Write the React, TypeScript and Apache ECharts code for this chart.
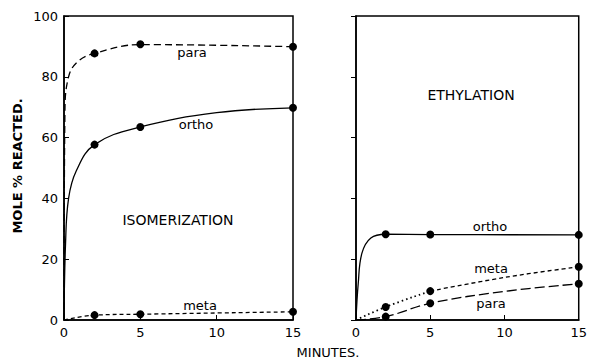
import React, { useEffect, useRef } from "react";
import * as echarts from "echarts";

// measured points
const times = [2, 5, 15];
const isoPara = [87.7, 90.7, 89.9];
const isoOrtho = [57.7, 63.5, 69.8];
const isoMeta = [1.6, 1.9, 2.7];
const ethOrtho = [28.2, 28.1, 28.0];
const ethMeta = [4.3, 9.5, 17.5];
const ethPara = [1.1, 5.5, 11.9];

// drawn curves
const isoParaCurveX = [0, 0.06, 0.3, 0.9, 2, 5, 15];
const isoParaCurveY = [0, 68, 80, 85, 87.7, 90.6, 89.9];
const isoOrthoCurveX = [0, 0.1, 0.3, 0.8, 2, 5, 10, 15];
const isoOrthoCurveY = [0, 25, 40, 49, 57.7, 63.5, 68.2, 69.8];
const isoMetaCurveX = [0, 2, 5, 15];
const isoMetaCurveY = [0, 1.6, 1.9, 2.7];
const ethOrthoCurveX = [0, 0.15, 0.4, 1.0, 2, 5, 15];
const ethOrthoCurveY = [0, 12, 22, 27, 28.2, 28.1, 28.0];
const ethMetaDotX = [0, 2, 5];
const ethMetaDotY = [0, 4.3, 9.5];
const ethMetaDashX = [5, 10, 15];
const ethMetaDashY = [9.5, 14.0, 17.5];
const ethParaCurveX = [0, 2, 5, 10, 15];
const ethParaCurveY = [0, 1.1, 5.5, 9.4, 11.9];

const xTicks = [0, 5, 10, 15];

const FONT = "DejaVu Sans";

const zip = (xs: number[], ys: number[]) => xs.map((x, i) => [x, ys[i]]);

export default function App() {
  const ref = useRef<HTMLDivElement>(null);
  useEffect(() => {
    document.body.style.margin = "0";
    const chart = echarts.init(ref.current!, undefined, { renderer: "svg" });
    const xAxisBase = (gridIndex: number) => ({
      type: "value",
      gridIndex,
      min: xTicks[0],
      max: xTicks[xTicks.length - 1],
      interval: 5,
      axisLine: { lineStyle: { color: "#000", width: 1.5 } },
      axisTick: { inside: true, length: 5, lineStyle: { color: "#000" } },
      axisLabel: { color: "#000", fontFamily: FONT, fontSize: 13, margin: 6 },
      splitLine: { show: false },
    });
    const line = (name: string, xi: number, data: number[][], type: any, width = 1.3) => ({
      name,
      type: "line",
      xAxisIndex: xi,
      yAxisIndex: xi,
      data,
      smooth: 0.4,
      showSymbol: false,
      symbol: "none",
      lineStyle: { color: "#000", width, type },
      z: 2,
    });
    const dots = (name: string, xi: number, ys: number[]) => ({
      name,
      type: "scatter",
      xAxisIndex: xi,
      yAxisIndex: xi,
      data: zip(times, ys),
      symbol: "circle",
      symbolSize: 8,
      itemStyle: { color: "#000", opacity: 1 },
      z: 3,
    });
    const label = (text: string, x: number, y: number, size = 12, extra: any = {}) => ({
      type: "text",
      x,
      y,
      style: {
        text,
        fill: "#000",
        font: `${size}px '${FONT}'`,
        textAlign: "center",
        textVerticalAlign: "middle",
        ...extra,
      },
    });
    chart.setOption({
      animation: false,
      backgroundColor: "#fff",
      grid: [
        { left: 64, top: 16, width: 229, height: 304, show: true, borderColor: "#000", borderWidth: 1.5 },
        { left: 356, top: 16, width: 232, height: 304, show: true, borderColor: "#000", borderWidth: 1.5 },
      ],
      xAxis: [xAxisBase(0), xAxisBase(1)],
      yAxis: [
        {
          type: "value",
          gridIndex: 0,
          min: 0,
          max: 100,
          interval: 20,
          axisLine: { show: true, lineStyle: { color: "#000", width: 1.5 } },
          axisTick: { show: true, inside: true, length: 5, lineStyle: { color: "#000" } },
          axisLabel: { color: "#000", fontFamily: FONT, fontSize: 13, margin: 6 },
          splitLine: { show: false },
        },
        {
          type: "value",
          gridIndex: 1,
          min: 0,
          max: 100,
          interval: 20,
          position: "right",
          axisLine: { show: true, lineStyle: { color: "#000", width: 1.5 } },
          axisTick: { show: true, inside: true, length: 5, lineStyle: { color: "#000" } },
          axisLabel: { show: false },
          splitLine: { show: false },
        },
      ],
      series: [
        line("iso para", 0, zip(isoParaCurveX, isoParaCurveY), [7, 4]),
        line("iso ortho", 0, zip(isoOrthoCurveX, isoOrthoCurveY), "solid"),
        line("iso meta", 0, zip(isoMetaCurveX, isoMetaCurveY), [4, 3]),
        dots("iso para pts", 0, isoPara),
        dots("iso ortho pts", 0, isoOrtho),
        dots("iso meta pts", 0, isoMeta),
        line("eth ortho", 1, zip(ethOrthoCurveX, ethOrthoCurveY), "solid"),
        line("eth meta dotted", 1, zip(ethMetaDotX, ethMetaDotY), [1.5, 3], 1.8),
        line("eth meta dashed", 1, zip(ethMetaDashX, ethMetaDashY), [4, 3]),
        line("eth para", 1, zip(ethParaCurveX, ethParaCurveY), [10, 4]),
        dots("eth ortho pts", 1, ethOrtho),
        dots("eth meta pts", 1, ethMeta),
        dots("eth para pts", 1, ethPara),
      ],
      graphic: [
        label("para", 192, 52, 13),
        label("ortho", 196, 124, 13),
        label("ISOMERIZATION", 178, 220, 14),
        label("meta", 200, 305, 13),
        label("ETHYLATION", 471, 95, 14),
        label("ortho", 490, 226, 13),
        label("meta", 491, 268, 13),
        label("para", 491, 303, 13),
        label("MINUTES.", 328, 352, 13),
        {
          type: "text",
          x: 17,
          y: 166,
          rotation: Math.PI / 2,
          style: {
            text: "MOLE % REACTED.",
            fill: "#000",
            font: `bold 13px '${FONT}'`,
            textAlign: "center",
            textVerticalAlign: "middle",
          },
        },
      ],
    });
    return () => chart.dispose();
  }, []);
  return <div ref={ref} style={{ width: 590, height: 360 }} />;
}
